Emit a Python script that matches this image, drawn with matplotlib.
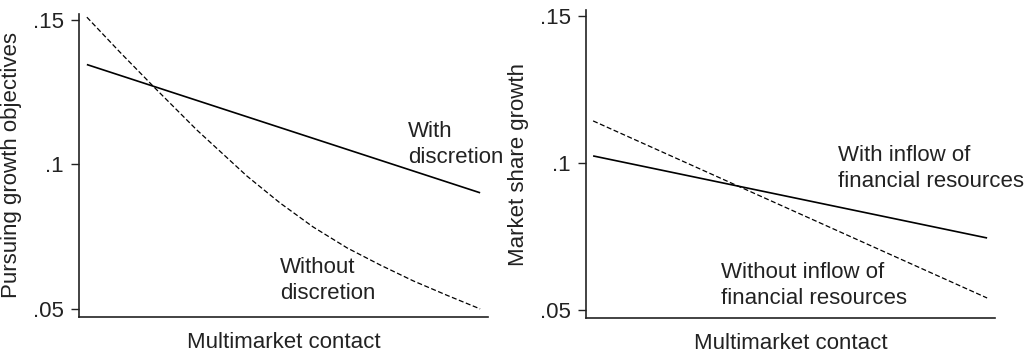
import matplotlib
matplotlib.use("Agg")
import matplotlib.pyplot as plt

plt.rcParams['font.family'] = ['Liberation Sans', 'DejaVu Sans']

# Left panel data (x = multimarket contact, normalised 0..1)
left_with_x = [0.0, 1.0]
left_with_y = [0.1346, 0.0902]
left_without_x = [0.0, 0.084, 0.178, 0.280, 0.407, 0.491, 0.575, 0.662, 0.746, 0.830, 0.916, 1.0]
left_without_y = [0.1510, 0.1389, 0.1258, 0.1119, 0.0960, 0.0867, 0.0784, 0.0711, 0.0652, 0.0597, 0.0547, 0.0500]

# Right panel data
right_with_x = [0.0, 1.0]
right_with_y = [0.1024, 0.0745]
right_without_x = [0.0, 1.0]
right_without_y = [0.1143, 0.0541]

yticks = [0.05, 0.10, 0.15]
ytick_labels = ['.05', '.1', '.15']

xlabel = 'Multimarket contact'
left_ylabel = 'Pursuing growth objectives'
right_ylabel = 'Market share growth'

TXT = '#222222'
FS = 16

fig = plt.figure(figsize=(10.24, 3.53), dpi=100)
axL = fig.add_axes([79/1024, 1-317/353, 409/1024, 303/353])
axR = fig.add_axes([586/1024, 1-318/353, 409/1024, 308/353])

dash = (0, (4.0, 2.0))

axL.plot(left_with_x, left_with_y, color='black', lw=1.2, solid_capstyle='butt')
axL.plot(left_without_x, left_without_y, color='black', lw=0.9, linestyle=dash)
axL.set_xlim(-0.020, 1.020)
axL.set_ylim(0.0472, 0.1521)

axR.plot(right_with_x, right_with_y, color='black', lw=1.2, solid_capstyle='butt')
axR.plot(right_without_x, right_without_y, color='black', lw=0.9, linestyle=dash)
axR.set_xlim(-0.018, 1.020)
axR.set_ylim(0.0473, 0.1520)

for ax, yl in ((axL, left_ylabel), (axR, right_ylabel)):
    for s in ('top', 'right'):
        ax.spines[s].set_visible(False)
    ax.spines['left'].set_linewidth(1.2)
    ax.spines['bottom'].set_linewidth(1.2)
    ax.spines['left'].set_color('#222222')
    ax.spines['bottom'].set_color('#222222')
    ax.set_xticks([])
    ax.set_yticks(yticks)
    ax.set_yticklabels(ytick_labels)
    ax.tick_params(axis='y', length=6, width=1.0, pad=5, labelsize=FS,
                   colors='#222222', labelcolor=TXT)
    ax.set_xlabel(xlabel, fontsize=FS, color=TXT, labelpad=11)
    ax.set_ylabel(yl, fontsize=FS, color=TXT, labelpad=8)

LS = 1.32
axL.text(0.817, 0.1070, 'With\ndiscretion', fontsize=FS, color=TXT,
         ha='left', va='center', linespacing=LS)
axL.text(0.491, 0.0597, 'Without\ndiscretion', fontsize=FS, color=TXT,
         ha='left', va='center', linespacing=LS)
axR.text(0.622, 0.0980, 'With inflow of\nfinancial resources', fontsize=FS, color=TXT,
         ha='left', va='center', linespacing=LS)
axR.text(0.325, 0.0582, 'Without inflow of\nfinancial resources', fontsize=FS, color=TXT,
         ha='left', va='center', linespacing=LS)

fig.savefig('out.png', dpi=100)
